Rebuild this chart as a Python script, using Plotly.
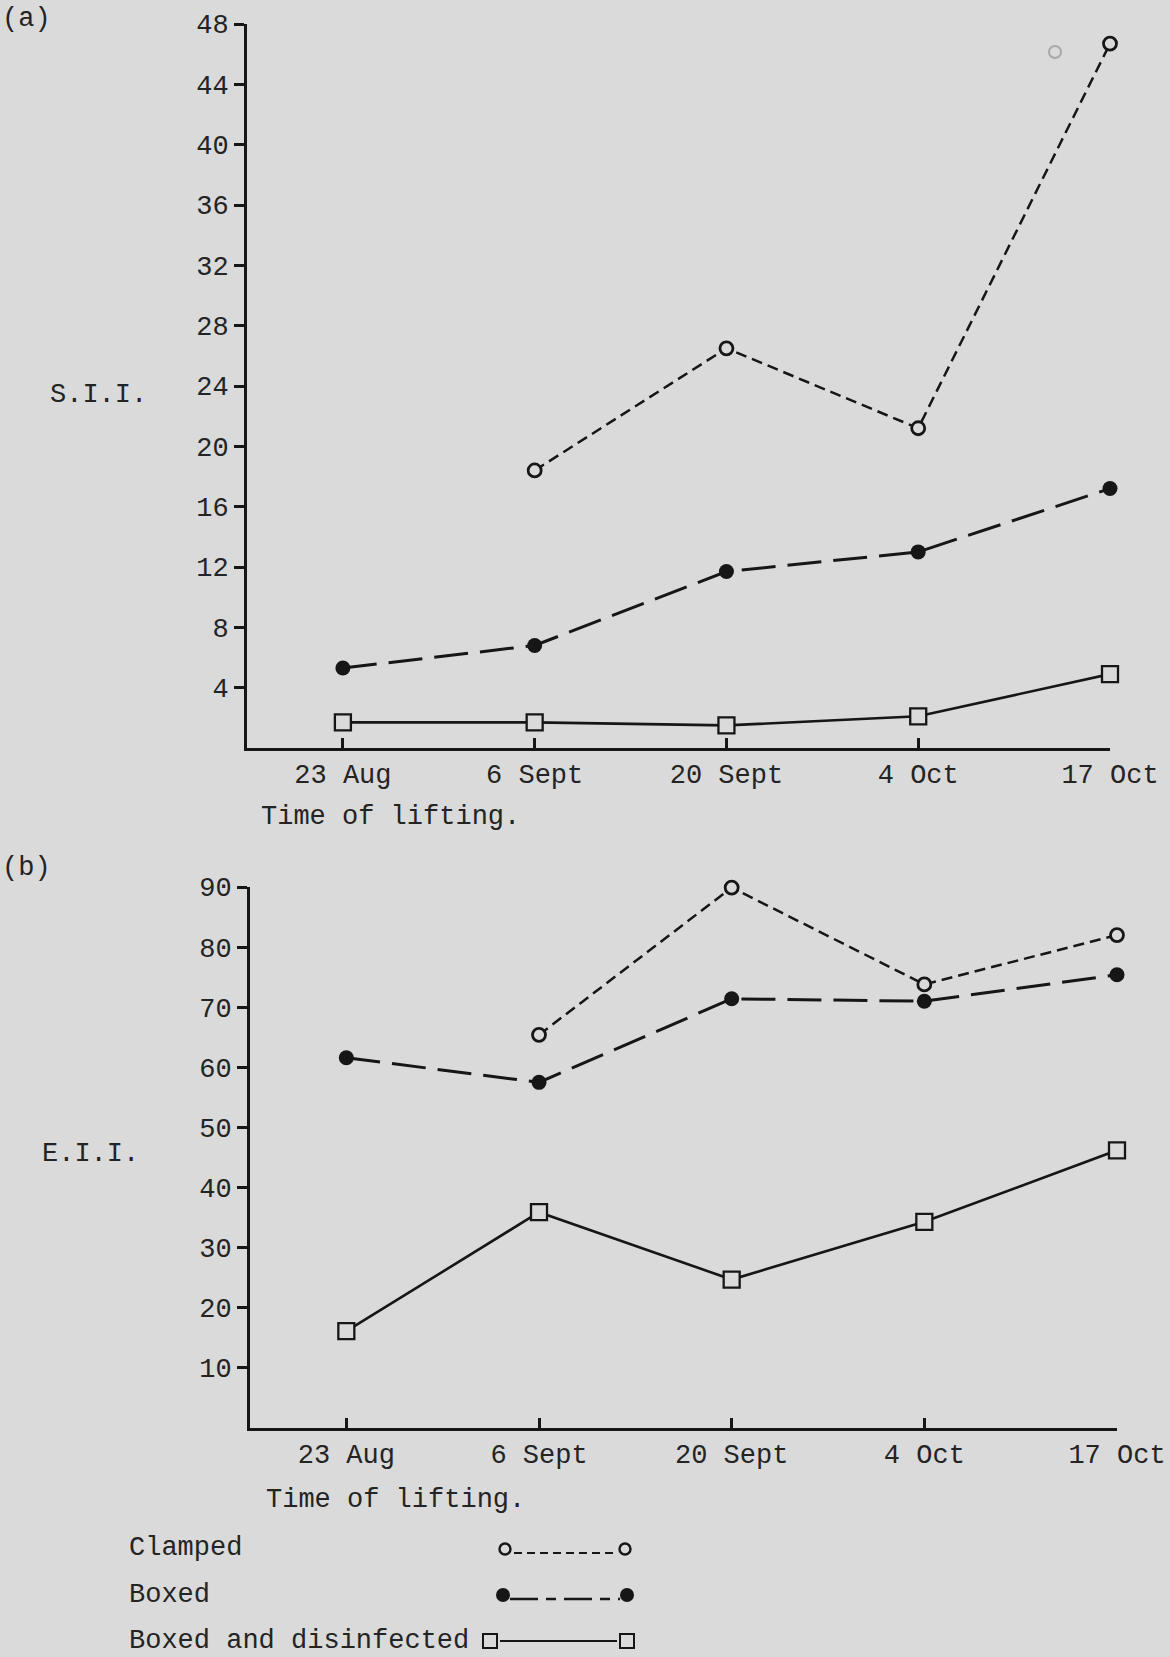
import plotly.graph_objects as go

# ---------------- data ----------------
dates = ["23 Aug", "6 Sept", "20 Sept", "4 Oct", "17 Oct"]

sii_clamped = [None, 18.4, 26.5, 21.2, 46.7]
sii_boxed = [5.3, 6.8, 11.7, 13.0, 17.2]
sii_disinfected = [1.7, 1.7, 1.5, 2.1, 4.9]

eii_clamped = [None, 65.4, 89.9, 73.8, 82.0]
eii_boxed = [61.6, 57.5, 71.4, 71.0, 75.4]
eii_disinfected = [16.1, 35.9, 24.7, 34.3, 46.2]

sii_ticks = [4, 8, 12, 16, 20, 24, 28, 32, 36, 40, 44, 48]
eii_ticks = [10, 20, 30, 40, 50, 60, 70, 80, 90]

series_names = ["Clamped", "Boxed", "Boxed and disinfected"]

# ---------------- style ----------------
W, H = 1170, 1657
BG = "#dadada"
INK = "#161616"
TXT = "#242424"
FONT = "Liberation Mono"
FS = 27


def px(x):
    return x / W


def py(y):
    return 1 - y / H


styles = {
    "Clamped": dict(line=dict(color=INK, width=2.5, dash="11px,6px"),
                    marker=dict(symbol="circle", size=13, color=BG,
                                line=dict(color=INK, width=2.8))),
    "Boxed": dict(line=dict(color=INK, width=3, dash="34px,12px"),
                  marker=dict(symbol="circle", size=15, color=INK,
                              line=dict(color=INK, width=0))),
    "Boxed and disinfected": dict(line=dict(color=INK, width=2.6),
                                  marker=dict(symbol="square", size=16, color=BG,
                                              line=dict(color=INK, width=2.3))),
}

fig = go.Figure()

panels = [
    ("x", "y", [sii_clamped, sii_boxed, sii_disinfected]),
    ("x2", "y2", [eii_clamped, eii_boxed, eii_disinfected]),
]
for xa, ya, vals in panels:
    for name, v in zip(series_names, vals):
        fig.add_trace(go.Scatter(
            x=dates, y=v, mode="lines+markers", name=name,
            xaxis=xa, yaxis=ya, showlegend=False, cliponaxis=False,
            connectgaps=False, hoverinfo="skip", **styles[name]))

axis_common = dict(showline=True, linewidth=3, linecolor=INK, showgrid=False,
                   zeroline=False, tickcolor=INK, tickwidth=2.5, automargin=False,
                   tickfont=dict(family=FONT, size=FS, color=TXT))

fig.update_layout(
    width=W, height=H, autosize=False,
    margin=dict(l=0, r=0, t=0, b=0, pad=0, autoexpand=False),
    paper_bgcolor=BG, plot_bgcolor=BG, showlegend=False,
    xaxis=dict(type="category", range=[-0.5, 4], domain=[px(247), px(1110)],
               anchor="y", ticks="inside", ticklen=10, **axis_common),
    yaxis=dict(range=[0, 48], domain=[py(748), py(24)], anchor="x",
               tickvals=sii_ticks, ticks="outside", ticklen=10, **axis_common),
    xaxis2=dict(type="category", range=[-0.5, 4], domain=[px(250), px(1117)],
                anchor="y2", ticks="inside", ticklen=10, **axis_common),
    yaxis2=dict(range=[0, 90], domain=[py(1428), py(887)], anchor="x2",
                tickvals=eii_ticks, ticks="outside", ticklen=10, **axis_common),
)

# ---------------- text ----------------
texts = [
    ("(a)", 0, 19, "left"),
    ("S.I.I.", 48, 395, "left"),
    ("Time of lifting.", 259, 817, "left"),
    ("(b)", 0, 868, "left"),
    ("E.I.I.", 40, 1154, "left"),
    ("Time of lifting.", 264, 1500, "left"),
    ("Clamped", 127, 1548, "left"),
    ("Boxed", 127, 1595, "left"),
    ("Boxed and disinfected", 127, 1641, "left"),
]
for t, x, y, al in texts:
    fig.add_annotation(text=t, x=px(x), y=py(y), xref="paper", yref="paper",
                       xanchor=al, yanchor="middle", showarrow=False,
                       font=dict(family=FONT, size=FS, color=TXT))

# ---------------- legend key (drawn) ----------------
shapes = []


def circle(cx, cy, r, fill, lw):
    return dict(type="circle", xref="paper", yref="paper",
                x0=px(cx - r), x1=px(cx + r), y0=py(cy + r), y1=py(cy - r),
                fillcolor=fill, line=dict(color=INK, width=lw))


def square(cx, cy, r):
    return dict(type="rect", xref="paper", yref="paper",
                x0=px(cx - r), x1=px(cx + r), y0=py(cy + r), y1=py(cy - r),
                fillcolor=BG, line=dict(color=INK, width=2))


def hline(x0, x1, y, w, dash="solid"):
    return dict(type="line", xref="paper", yref="paper",
                x0=px(x0), x1=px(x1), y0=py(y), y1=py(y),
                line=dict(color=INK, width=w, dash=dash))


shapes += [circle(505, 1549, 5.5, BG, 2.4), circle(625, 1549, 5.5, BG, 2.4),
           hline(514, 616, 1553, 2.2, "8px,5px")]
shapes += [circle(503, 1595, 7, INK, 0), circle(627, 1595, 7, INK, 0),
           hline(510, 620, 1599, 2.6, "28px,8px,10px,8px")]
shapes += [square(490, 1641, 7), square(627, 1641, 7),
           hline(500, 617, 1641, 2.2)]
# faint erased mark near the top right of panel (a)
shapes += [dict(type="circle", xref="paper", yref="paper",
                x0=px(1049), x1=px(1061), y0=py(58), y1=py(46),
                line=dict(color="#a8a8a8", width=2))]

fig.update_layout(shapes=shapes)

fig.write_html(
    "out.html",
    config={"displayModeBar": False, "responsive": False},
    post_script="document.body.style.margin='0';document.body.style.overflow='hidden';",
)
